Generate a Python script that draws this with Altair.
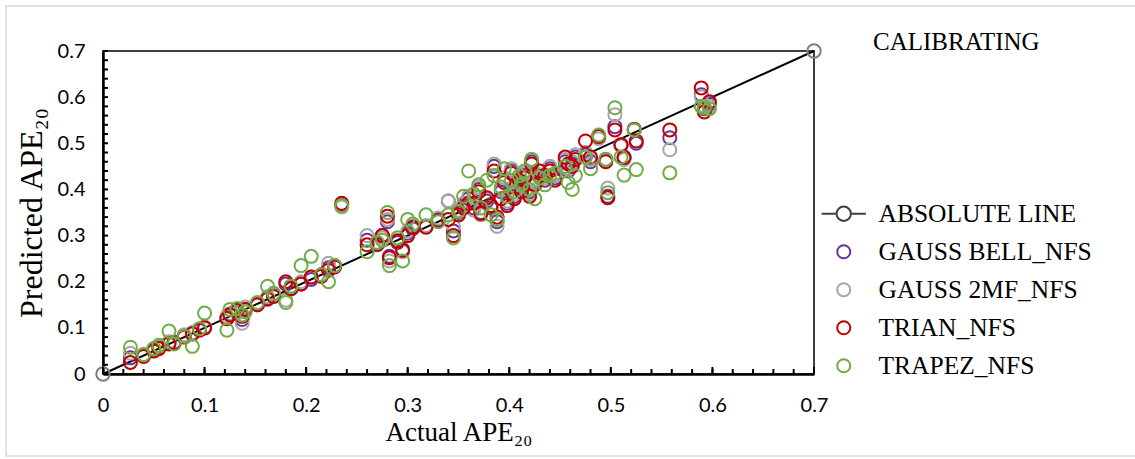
import altair as alt
import pandas as pd

# ---------------- data ----------------
actual = [0.027, 0.040, 0.050, 0.055, 0.065, 0.070, 0.080, 0.088, 0.095, 0.100,
          0.122, 0.125, 0.132, 0.137, 0.140, 0.152, 0.162, 0.168, 0.180, 0.185,
          0.195, 0.205, 0.215, 0.222, 0.228, 0.235, 0.260, 0.270, 0.275, 0.280,
          0.282, 0.290, 0.295, 0.300, 0.305, 0.318, 0.330, 0.340, 0.345, 0.350,
          0.355, 0.360, 0.365, 0.370, 0.372, 0.378, 0.382, 0.385, 0.388, 0.392,
          0.395, 0.398, 0.402, 0.405, 0.410, 0.412, 0.415, 0.420, 0.422, 0.425,
          0.430, 0.435, 0.440, 0.445, 0.455, 0.458, 0.462, 0.465, 0.475, 0.480,
          0.488, 0.495, 0.497, 0.504, 0.510, 0.513, 0.523, 0.525, 0.558, 0.589,
          0.592, 0.597]

gauss_bell = [0.035, 0.040, 0.052, 0.058, 0.068, 0.068, 0.082, 0.088, 0.095, 0.100,
              0.122, 0.130, 0.135, 0.118, 0.140, 0.150, 0.165, 0.170, 0.195, 0.185,
              0.195, 0.205, 0.215, 0.230, 0.235, 0.368, 0.290, 0.280, 0.300, 0.330,
              0.255, 0.285, 0.270, 0.305, 0.315, 0.320, 0.335, 0.375, 0.310, 0.350,
              0.365, 0.380, 0.360, 0.400, 0.350, 0.375, 0.360, 0.450, 0.330, 0.395,
              0.420, 0.370, 0.440, 0.385, 0.415, 0.400, 0.430, 0.395, 0.460, 0.415,
              0.430, 0.420, 0.445, 0.425, 0.460, 0.440, 0.455, 0.470, 0.475, 0.460,
              0.515, 0.465, 0.385, 0.536, 0.495, 0.470, 0.530, 0.500, 0.512, 0.605,
              0.575, 0.585]

gauss_2mf = [0.045, 0.042, 0.050, 0.060, 0.070, 0.066, 0.085, 0.090, 0.097, 0.102,
             0.125, 0.128, 0.132, 0.110, 0.145, 0.152, 0.168, 0.172, 0.160, 0.190,
             0.200, 0.210, 0.212, 0.240, 0.235, 0.362, 0.300, 0.285, 0.295, 0.335,
             0.245, 0.290, 0.265, 0.310, 0.320, 0.322, 0.338, 0.375, 0.320, 0.355,
             0.370, 0.385, 0.355, 0.405, 0.345, 0.380, 0.365, 0.455, 0.320, 0.400,
             0.425, 0.375, 0.445, 0.390, 0.410, 0.395, 0.435, 0.390, 0.465, 0.420,
             0.432, 0.425, 0.450, 0.430, 0.465, 0.445, 0.460, 0.475, 0.480, 0.465,
             0.510, 0.462, 0.403, 0.562, 0.497, 0.465, 0.529, 0.505, 0.486, 0.601,
             0.580, 0.580]

trian = [0.025, 0.038, 0.050, 0.055, 0.065, 0.068, 0.080, 0.087, 0.096, 0.100,
         0.120, 0.128, 0.138, 0.125, 0.140, 0.150, 0.162, 0.168, 0.200, 0.185,
         0.195, 0.210, 0.212, 0.225, 0.232, 0.370, 0.280, 0.282, 0.300, 0.342,
         0.252, 0.288, 0.268, 0.300, 0.318, 0.318, 0.332, 0.335, 0.300, 0.345,
         0.360, 0.370, 0.370, 0.395, 0.348, 0.382, 0.365, 0.440, 0.340, 0.380,
         0.415, 0.365, 0.435, 0.380, 0.420, 0.395, 0.425, 0.385, 0.455, 0.410,
         0.440, 0.430, 0.440, 0.420, 0.470, 0.455, 0.450, 0.465, 0.505, 0.470,
         0.515, 0.460, 0.382, 0.529, 0.497, 0.469, 0.530, 0.505, 0.529, 0.620,
         0.568, 0.590]

trapez = [0.058, 0.042, 0.055, 0.062, 0.093, 0.065, 0.082, 0.060, 0.098, 0.132,
          0.095, 0.140, 0.142, 0.128, 0.135, 0.155, 0.190, 0.175, 0.155, 0.190,
          0.235, 0.255, 0.215, 0.200, 0.235, 0.365, 0.265, 0.285, 0.290, 0.350,
          0.235, 0.295, 0.245, 0.335, 0.325, 0.345, 0.330, 0.345, 0.295, 0.352,
          0.385, 0.440, 0.390, 0.410, 0.360, 0.420, 0.345, 0.430, 0.335, 0.405,
          0.445, 0.385, 0.420, 0.395, 0.430, 0.410, 0.440, 0.400, 0.465, 0.380,
          0.425, 0.410, 0.430, 0.435, 0.450, 0.415, 0.400, 0.430, 0.470, 0.445,
          0.518, 0.465, 0.393, 0.577, 0.470, 0.431, 0.529, 0.443, 0.436, 0.580,
          0.577, 0.575]

series_names = ["ABSOLUTE LINE", "GAUSS BELL_NFS", "GAUSS 2MF_NFS", "TRIAN_NFS", "TRAPEZ_NFS"]
series_colors = ["#404040", "#7030A0", "#A6A6A6", "#C00000", "#70AD47"]

line_x = [0.0, 0.7]
line_y = [0.0, 0.7]

tick_values = [round(i * 0.1, 1) for i in range(8)]
minor_ticks = [round(i * 0.02, 2) for i in range(36)]

# ---------------- frames ----------------
rows = []
for name, vals in zip(series_names[1:], [gauss_bell, gauss_2mf, trian, trapez]):
    for a, p in zip(actual, vals):
        rows.append({"actual": a, "pred": p, "series": name})
scatter_df = pd.DataFrame(rows)
line_df = pd.DataFrame({"actual": line_x, "pred": line_y})
ticks_df = pd.DataFrame({"v": minor_ticks})
major_df = pd.DataFrame({"v": tick_values})

W, H = 711, 323
xs = alt.Scale(domain=[0, 0.7], nice=False, zero=False)
ys = alt.Scale(domain=[0, 0.7], nice=False, zero=False)

PT_SIZE = 170
line_path = "M-3.4,0H-1.1M1.1,0H3.4M-1.1,0A1.1,1.1,0,1,1,1.1,0A1.1,1.1,0,1,1,-1.1,0"
shapes = [line_path, "circle", "circle", "circle", "circle"]

base_x = alt.X("actual:Q", scale=xs,
               axis=alt.Axis(values=tick_values, ticks=False, grid=False, format="~g",
                             domainColor="black", domainWidth=2.5, labelFlush=False,
                             labelFont="Lato", labelFontSize=20, labelColor="black",
                             labelPadding=21,
                             title="Actual APE₂₀", titleFont="Liberation Serif",
                             titleFontSize=27, titleFontWeight="normal", titleColor="black",
                             titlePadding=4))
base_y = alt.Y("pred:Q", scale=ys,
               axis=alt.Axis(values=tick_values, ticks=False, grid=False, format="~g",
                             domainColor="black", domainWidth=2.5, labelFlush=False,
                             labelFont="Lato", labelFontSize=20, labelColor="black",
                             labelPadding=18,
                             title="Predicted APE₂₀", titleFont="Liberation Serif",
                             titleFontSize=32, titleFontWeight="normal", titleColor="black",
                             titlePadding=9))

legend_kw = dict(title=None, orient="none", legendX=724, legendY=150,
                 labelFont="Liberation Serif", labelFontSize=25.5, labelLimit=400,
                 labelColor="black", symbolSize=PT_SIZE, symbolOpacity=1,
                 symbolStrokeWidth=2, rowPadding=11, labelOffset=22, symbolOffset=4)

abs_line = alt.Chart(line_df).mark_line(color="black", strokeWidth=2).encode(x=base_x, y=base_y)
abs_pts = alt.Chart(line_df).mark_point(shape="circle", filled=False, color="#7F7F7F",
                                        size=180, strokeWidth=2, opacity=1, clip=False).encode(
    x=alt.X("actual:Q", scale=xs), y=alt.Y("pred:Q", scale=ys))

scatter = alt.Chart(scatter_df).mark_point(filled=False, size=PT_SIZE, strokeWidth=2,
                                           opacity=1).encode(
    x=alt.X("actual:Q", scale=xs),
    y=alt.Y("pred:Q", scale=ys),
    color=alt.Color("series:N",
                    scale=alt.Scale(domain=series_names, range=series_colors),
                    legend=alt.Legend(**legend_kw)),
    shape=alt.Shape("series:N", scale=alt.Scale(domain=series_names, range=shapes),
                    legend=alt.Legend(**legend_kw)),
    order=alt.Order("order_idx:Q"),
).transform_calculate(
    order_idx="indexof(['GAUSS BELL_NFS','GAUSS 2MF_NFS','TRIAN_NFS','TRAPEZ_NFS'], datum.series)"
)

xminor = alt.Chart(ticks_df).mark_rule(color="black", strokeWidth=2).encode(
    x=alt.X("v:Q", scale=xs), y=alt.value(H), y2=alt.value(H - 5))
xmajor = alt.Chart(major_df).mark_rule(color="black", strokeWidth=2).encode(
    x=alt.X("v:Q", scale=xs), y=alt.value(H), y2=alt.value(H - 7))
yminor = alt.Chart(ticks_df).mark_rule(color="black", strokeWidth=2).encode(
    y=alt.Y("v:Q", scale=ys), x=alt.value(0), x2=alt.value(5))

label_df = pd.DataFrame({"t": ["CALIBRATING"]})
calib = alt.Chart(label_df).mark_text(align="left", baseline="alphabetic",
                                      font="Liberation Serif", fontSize=25,
                                      color="black").encode(
    text="t:N", x=alt.value(770), y=alt.value(-1))

frame_df = pd.DataFrame({"k": [0]})
frame = alt.Chart(frame_df).mark_rect(fillOpacity=0, stroke="#D9D9D9", strokeWidth=1.5).encode(
    x=alt.value(-97), x2=alt.value(1060), y=alt.value(-45), y2=alt.value(405))

chart = alt.layer(frame, abs_line, scatter, abs_pts, xminor, xmajor, yminor, calib).properties(
    width=W, height=H,
    autosize=alt.AutoSizeParams(type="none"),
    padding={"left": 103, "top": 51, "right": 321, "bottom": 85},
    background="white",
).configure_view(stroke="black", strokeWidth=1.5)

chart.save("out.html", embed_options={"renderer": "svg", "actions": False})
